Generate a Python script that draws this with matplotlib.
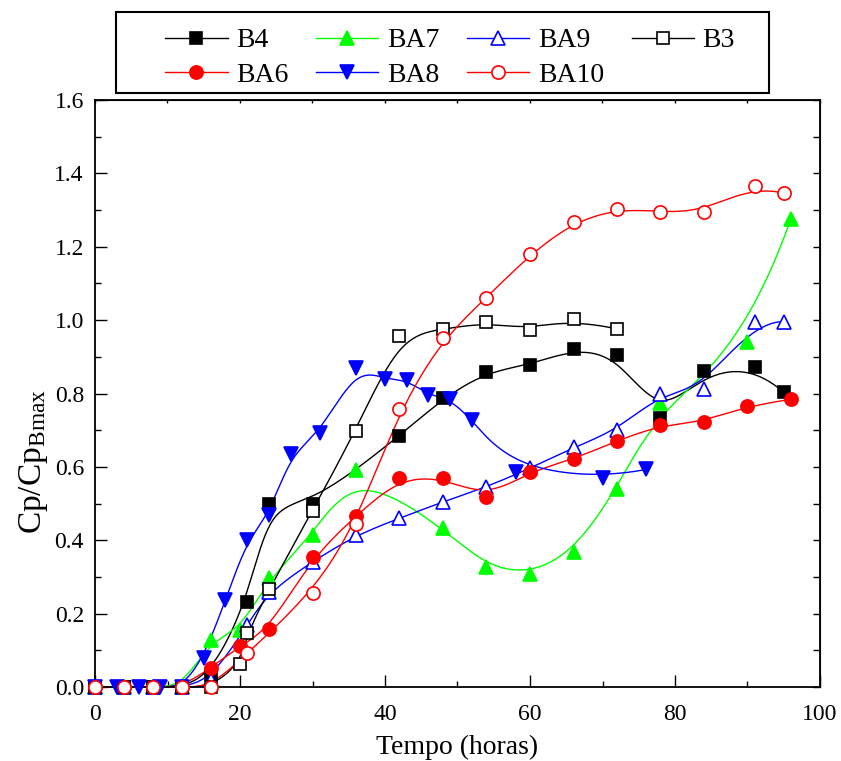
import numpy as np
import matplotlib
matplotlib.use("Agg")
import matplotlib.pyplot as plt
from matplotlib.lines import Line2D
from matplotlib.patches import Rectangle

plt.rcParams['font.family'] = ['Liberation Serif', 'DejaVu Serif']
plt.rcParams['mathtext.fontset'] = 'custom'
plt.rcParams['mathtext.rm'] = 'Liberation Serif'
plt.rcParams['mathtext.it'] = 'Liberation Serif:italic'

# ---------------- data ----------------
hB4 = [0, 4, 8, 12, 16, 21, 24, 30, 42, 48, 54, 60, 66, 72, 78, 84, 91, 95]
B4 = [0, 0, 0, 0, 0.035, 0.231, 0.498, 0.50, 0.684, 0.787, 0.859, 0.878, 0.921, 0.904, 0.732, 0.862, 0.873, 0.803]

hBA7 = [0, 4, 8, 12, 16, 20, 24, 30, 36, 48, 54, 60, 66, 72, 78, 90, 96]
BA7 = [0, 0, 0, 0, 0.127, 0.155, 0.296, 0.414, 0.591, 0.433, 0.328, 0.308, 0.369, 0.539, 0.773, 0.941, 1.277]

hBA9 = [0, 4, 8, 12, 16, 21, 24, 30, 36, 42, 48, 54, 60, 66, 72, 78, 84, 91, 95]
BA9 = [0, 0, 0, 0, 0.02, 0.169, 0.26, 0.342, 0.414, 0.46, 0.505, 0.545, 0.596, 0.653, 0.70, 0.80, 0.811, 0.996, 0.996]

hB3 = [0, 4, 8, 12, 16, 20, 21, 24, 30, 36, 42, 48, 54, 60, 66, 72]
B3 = [0, 0, 0, 0, 0, 0.063, 0.146, 0.266, 0.481, 0.699, 0.957, 0.975, 0.994, 0.973, 1.002, 0.976]

hBA6 = [0, 4, 8, 12, 16, 20, 24, 30, 36, 42, 48, 54, 60, 66, 72, 78, 84, 90, 96]
BA6 = [0, 0, 0, 0, 0.053, 0.112, 0.157, 0.355, 0.466, 0.570, 0.570, 0.517, 0.587, 0.621, 0.671, 0.714, 0.721, 0.767, 0.784]

hBA8 = [0, 3, 6, 9, 12, 15, 18, 21, 24, 27, 31, 36, 40, 43, 46, 49, 52, 58, 70, 76]
BA8 = [0, 0, 0, 0, 0, 0.08, 0.237, 0.402, 0.468, 0.636, 0.691, 0.869, 0.839, 0.837, 0.796, 0.784, 0.728, 0.587, 0.570, 0.593]

hBA10 = [0, 4, 8, 12, 16, 21, 30, 36, 42, 48, 54, 60, 66, 72, 78, 84, 91, 95]
BA10 = [0, 0, 0, 0, 0, 0.092, 0.257, 0.444, 0.757, 0.950, 1.061, 1.179, 1.267, 1.303, 1.296, 1.294, 1.366, 1.346]

labels = ['B4', 'BA7', 'BA9', 'B3', 'BA6', 'BA8', 'BA10']


def bspline(xs, ys, npts=600):
    """Clamped uniform cubic B-spline using the data points as control points."""
    P = np.column_stack([xs, ys]).astype(float)
    m = len(P)
    k = 3
    knots = np.concatenate([[0.0] * k, np.arange(m - 2, dtype=float), [m - 3.0] * k])
    ts = np.linspace(0, m - 3, npts)
    out = []
    for t in ts:
        s = int(np.searchsorted(knots, t, side='right') - 1)
        s = min(max(s, k), m - 1)
        d = [P[j + s - k].copy() for j in range(k + 1)]
        for r in range(1, k + 1):
            for j in range(k, r - 1, -1):
                i = j + s - k
                denom = knots[i + k + 1 - r] - knots[i]
                a = 0.0 if denom == 0 else (t - knots[i]) / denom
                d[j] = (1 - a) * d[j - 1] + a * d[j]
        out.append(d[k])
    out = np.array(out)
    return out[:, 0], out[:, 1]


fig = plt.figure(figsize=(8.41, 7.61), dpi=100)
ax = fig.add_axes([95 / 841, 1 - 687 / 761, 725 / 841, 587 / 761])

GREEN = '#00ff00'
series = [
    (hB4, B4, 'black', 's', 'black', 8),
    (hBA7, BA7, GREEN, '^', GREEN, 10),
    (hBA9, BA9, 'blue', '^', 'white', 10),
    (hB3, B3, 'black', 's', 'white', 8),
    (hBA6, BA6, 'red', 'o', 'red', 9.5),
    (hBA8, BA8, 'blue', 'v', 'blue', 10),
    (hBA10, BA10, 'red', 'o', 'white', 9.5),
]

handles = []
for (h, v, c, mk, fc, ms), lab in zip(series, labels):
    sx, sy = bspline(h, v)
    ax.plot(sx, sy, color=c, lw=1.0, zorder=2, clip_on=False)
    ax.plot(h, v, ls='none', marker=mk, ms=ms, mfc=fc, mec=c, mew=1.2, zorder=3, clip_on=False)
    handles.append(Line2D([], [], color=c, lw=1.0, marker=mk, ms=ms, mfc=fc, mec=c, mew=1.2))

ax.set_xlim(0, 100)
ax.set_ylim(0, 1.6)
ax.set_xticks(np.arange(0, 101, 20))
ax.set_xticks(np.arange(0, 101, 10), minor=True)
ax.set_yticks(np.arange(0, 1.61, 0.2))
ax.set_yticks(np.arange(0, 1.61, 0.1), minor=True)
ax.yaxis.set_major_formatter(matplotlib.ticker.FormatStrFormatter('%.1f'))
ax.tick_params(which='major', direction='in', length=8.5, width=1.0, labelsize=17,
               top=False, right=False)
ax.tick_params(which='minor', direction='in', length=4, width=1.0, top=False, right=False)
ax.tick_params(axis='x', pad=12)
ax.tick_params(axis='y', pad=8)
for sp in ax.spines.values():
    sp.set_linewidth(1.3)

# top and right ticks (short)
secx = ax.secondary_xaxis('top')
secx.set_xticks(np.arange(0, 101, 10))
secx.tick_params(direction='in', length=2.5, width=1.0, labeltop=False)
secy = ax.secondary_yaxis('right')
secy.set_yticks(np.arange(0, 1.61, 0.1))
secy.tick_params(direction='in', length=5, width=1.0, labelright=False)

ax.set_xlabel('Tempo (horas)', fontsize=20, labelpad=7)
fig.text(34 / 841, 1 - 462 / 761, r'Cp/Cp$_{\mathrm{Bmax}}$', rotation=90,
         fontsize=24, ha='center', va='center')

# legend: row-major layout
order = [0, 4, 1, 5, 2, 6, 3]
leg = fig.legend([handles[i] for i in order], [labels[i] for i in order],
                 ncol=4, loc='upper left', bbox_to_anchor=(165 / 841, 1 - 28 / 761),
                 frameon=False, fontsize=20, handlelength=2.25, handletextpad=0.3,
                 columnspacing=1.0, labelspacing=0.32, borderpad=0, borderaxespad=0)
fig.patches.append(Rectangle((116 / 841, 1 - 93 / 761), 653 / 841, 81 / 761,
                             transform=fig.transFigure, fill=False, ec='black', lw=1.5))

fig.savefig('out.png', dpi=100)
